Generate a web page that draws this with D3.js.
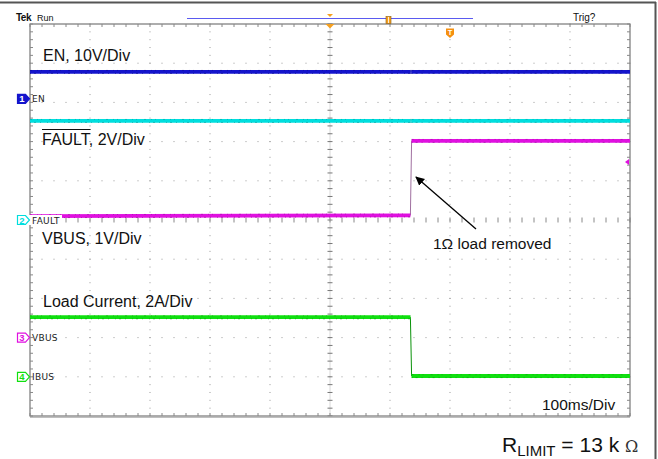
<!DOCTYPE html>
<html><head><meta charset="utf-8">
<script src="https://cdn.jsdelivr.net/npm/d3@7"></script>
<style>
html,body{margin:0;padding:0;background:#fff;}
svg{display:block;font-family:"Liberation Sans",Arial,sans-serif;}
</style></head>
<body>
<svg id="c" width="658" height="459"></svg>
<script>
// ---- data (time in ms, levels in screen divisions from centre) ----
const channels = ["EN", "FAULT", "VBUS", "IBUS"];
const channelColors = ["#1414cc", "#00dede", "#e010e0", "#10e010"];
const channelMarkerDiv = [3.09, 0.0, -3.0, -4.0];
const stepTimes = [0, 634, 636, 1000];
const enDiv = [3.78, 3.78, 3.78, 3.78];
const faultDiv = [2.53, 2.53, 2.53, 2.53];
const vbusDiv = [0.10, 0.12, 2.02, 2.02];
const ibusDiv = [-2.48, -2.48, -3.98, -3.98];
const traceLabels = ["EN, 10V/Div", "FAULT, 2V/Div", "VBUS, 1V/Div", "Load Current, 2A/Div"];
const timeBase = "100ms/Div";
const annotation = "1\u03A9 load removed";

const svg = d3.select("#c");
const W = 658, H = 459;
const x = d3.scaleLinear().domain([0, 1000]).range([30, 630]);
const y = d3.scaleLinear().domain([-5, 5]).range([416, 24]);

// outer frame
svg.append("line").attr("x1", 0).attr("x2", 656).attr("y1", 2.5).attr("y2", 2.5).attr("stroke", "#555").attr("stroke-width", 2);
svg.append("line").attr("x1", 655.5).attr("x2", 655.5).attr("y1", 2).attr("y2", H).attr("stroke", "#555").attr("stroke-width", 2);

// graticule
const g = svg.append("g");
const majorT = d3.range(100, 1000, 100);
const majorV = d3.range(-4, 5, 1);
const minorT = d3.range(0, 1000.1, 20);
const minorV = d3.range(-5, 5.01, 0.2);
majorT.filter(t => t !== 500).forEach(t => {
  minorV.forEach(v => g.append("rect").attr("x", x(t) - 0.5).attr("y", y(v) - 0.5).attr("width", 1).attr("height", 1).attr("fill", "#9a9a9a"));
});
majorV.filter(v => v !== 0).forEach(v => {
  minorT.forEach(t => g.append("rect").attr("x", x(t) - 0.5).attr("y", y(v) - 0.5).attr("width", 1).attr("height", 1).attr("fill", "#9a9a9a"));
});
g.append("line").attr("x1", x(500)).attr("x2", x(500)).attr("y1", y(5)).attr("y2", y(-5)).attr("stroke", "#d8d8d8").attr("stroke-width", 1);
minorV.forEach(v => g.append("line").attr("x1", x(500) - 2.5).attr("x2", x(500) + 2.5).attr("y1", y(v)).attr("y2", y(v)).attr("stroke", "#777"));
minorT.forEach(t => g.append("line").attr("x1", x(t)).attr("x2", x(t)).attr("y1", y(0) - 2.5).attr("y2", y(0) + 2.5).attr("stroke", "#888"));
g.append("rect").attr("x", x(0)).attr("y", y(5)).attr("width", x(1000) - x(0)).attr("height", y(-5) - y(5))
  .attr("fill", "none").attr("stroke", "#777").attr("stroke-width", 1.2);
g.append("line").attr("x1", x(0)).attr("x2", x(1000)).attr("y1", y(-5) + 1).attr("y2", y(-5) + 1).attr("stroke", "#aaa").attr("stroke-width", 1.5);
minorT.forEach(t => {
  g.append("line").attr("x1", x(t)).attr("x2", x(t)).attr("y1", y(5)).attr("y2", y(5) + 3).attr("stroke", "#888");
  g.append("line").attr("x1", x(t)).attr("x2", x(t)).attr("y1", y(-5)).attr("y2", y(-5) - 3).attr("stroke", "#888");
});
minorV.forEach(v => {
  g.append("line").attr("x1", x(0)).attr("x2", x(0) + 3).attr("y1", y(v)).attr("y2", y(v)).attr("stroke", "#888");
  g.append("line").attr("x1", x(1000)).attr("x2", x(1000) - 3).attr("y1", y(v)).attr("y2", y(v)).attr("stroke", "#888");
});

// traces
const series = [enDiv, faultDiv, vbusDiv, ibusDiv];
const line = d3.line().x(d => x(d[0])).y(d => y(d[1]));
const darker = c => d3.color(c).darker(1.2).formatHex();
series.forEach((lv, i) => {
  const pts = stepTimes.map((t, k) => [t, lv[k]]);
  const col = channelColors[i];
  svg.append("path").attr("d", line(pts)).attr("fill", "none").attr("stroke", i === 2 ? "#a070a0" : darker(col)).attr("stroke-width", 1);
  for (let k = 0; k < pts.length - 1; k++) {
    if (Math.abs(pts[k][1] - pts[k + 1][1]) < 0.05) {
      const seg = [pts[k], pts[k + 1]];
      svg.append("path").attr("d", line(seg)).attr("fill", "none").attr("stroke", col).attr("stroke-width", 3.8);
      svg.append("path").attr("d", line(seg)).attr("fill", "none").attr("stroke", darker(col))
        .attr("stroke-width", 1).attr("opacity", 0.55).attr("stroke-dasharray", "1,3,2,4,1,6")
        .attr("transform", "translate(0,1.6)");
      svg.append("path").attr("d", line(seg)).attr("fill", "none").attr("stroke", darker(col))
        .attr("stroke-width", 1).attr("opacity", 0.45).attr("stroke-dasharray", "2,5,1,3,1,7")
        .attr("transform", "translate(0,-1.4)");
    }
  }
});
svg.append("path").attr("d", `M${x(1000) - 5},${y(1.48)} l4,-3 v6 z`).attr("fill", channelColors[2]);

// channel markers
channels.forEach((name, i) => {
  const cy = y(channelMarkerDiv[i]);
  const col = channelColors[i];
  const filled = i === 0;
  const mg = svg.append("g");
  if (i === 1) mg.append("rect").attr("x", 28).attr("y", cy - 5).attr("width", 34).attr("height", 10).attr("fill", "#fff");
  mg.append("path").attr("d", `M17.5,${cy - 4.5} h8 l4,4.5 l-4,4.5 h-8 z`)
    .attr("fill", filled ? col : "#fff").attr("stroke", col).attr("stroke-width", 1.2);
  mg.append("text").attr("x", 22).attr("y", cy + 3.5).attr("text-anchor", "middle").attr("font-size", 9.5)
    .attr("font-weight", "bold").attr("fill", filled ? "#fff" : col).text(String(i + 1));
  mg.append("text").attr("x", 32).attr("y", cy + 3.5).attr("font-size", 9).attr("fill", "#222")
    .attr("font-family", "DejaVu Sans, sans-serif").attr("letter-spacing", 0.3).text(name);
});

// trace labels
const lblPos = [[43, 61], [42, 145], [42, 244], [43, 307]];
traceLabels.forEach((t, i) => {
  svg.append("text").attr("x", lblPos[i][0]).attr("y", lblPos[i][1]).attr("font-size", 16).attr("fill", "#111").text(t);
});
{
  const tmp = svg.append("text").attr("font-size", 16).text("FAULT");
  const w = tmp.node().getComputedTextLength(); tmp.remove();
  svg.append("line").attr("x1", 42).attr("x2", 42 + w).attr("y1", 129.5).attr("y2", 129.5).attr("stroke", "#111").attr("stroke-width", 1);
}

// annotation arrow
const defs = svg.append("defs");
defs.append("marker").attr("id", "ah").attr("viewBox", "0 0 10 10").attr("refX", 9).attr("refY", 5)
  .attr("markerWidth", 9).attr("markerHeight", 9).attr("orient", "auto-start-reverse").attr("markerUnits", "userSpaceOnUse")
  .append("path").attr("d", "M0,0 L10,5 L0,10 z").attr("fill", "#000");
svg.append("line").attr("x1", 476).attr("y1", 229).attr("x2", 416).attr("y2", 177)
  .attr("stroke", "#000").attr("stroke-width", 1.3).attr("marker-end", "url(#ah)");
svg.append("text").attr("x", 433).attr("y", 249).attr("font-size", 15.5).attr("fill", "#111").text(annotation);

svg.append("text").attr("x", 542).attr("y", 410).attr("font-size", 15.5).attr("fill", "#111").text(timeBase);

// R_LIMIT
const rt = svg.append("text").attr("x", 502).attr("y", 452).attr("font-size", 21).attr("fill", "#111");
rt.append("tspan").text("R");
rt.append("tspan").attr("font-size", 15).attr("dy", 3.5).text("LIMIT");
rt.append("tspan").attr("dy", -3.5).text(" = 13 k ");
rt.append("tspan").attr("font-size", 16).attr("font-family", "DejaVu Serif, serif").attr("fill", "#333").text("\u03A9");

// top status bar
svg.append("text").attr("x", 16).attr("y", 21).attr("font-size", 10).attr("font-weight", "bold").attr("letter-spacing", -0.5).attr("fill", "#111").text("Tek");
svg.append("text").attr("x", 37).attr("y", 21).attr("font-size", 9).attr("fill", "#111").text("Run");
svg.append("text").attr("x", 573).attr("y", 21).attr("font-size", 10).attr("fill", "#111").text("Trig?");
svg.append("line").attr("x1", 187).attr("x2", 473).attr("y1", 18.5).attr("y2", 18.5).attr("stroke", "#5a5af0").attr("stroke-width", 1.2);
svg.append("path").attr("d", `M${x(500) - 3},14 h6 l-3,3 z`).attr("fill", "#f5a020");
svg.append("path").attr("d", `M${x(500) - 4.5},24 h9 l-4.5,4.5 z`).attr("fill", "#f5a020");
svg.append("rect").attr("x", 386).attr("y", 16.5).attr("width", 5).attr("height", 7).attr("fill", "#f5a020").attr("stroke", "#8a5a10").attr("stroke-width", 0.6);
svg.append("line").attr("x1", 388.5).attr("x2", 388.5).attr("y1", 17).attr("y2", 23).attr("stroke", "#fff").attr("stroke-width", 0.8);
svg.append("path").attr("d", "M446,28.5 h8 v6 l-4,3.5 l-4,-3.5 z").attr("fill", "#f59010");
svg.append("text").attr("x", 450).attr("y", 35).attr("text-anchor", "middle").attr("font-size", 7.5).attr("font-weight", "bold").attr("fill", "#fff").text("T");
</script>
</body></html>
